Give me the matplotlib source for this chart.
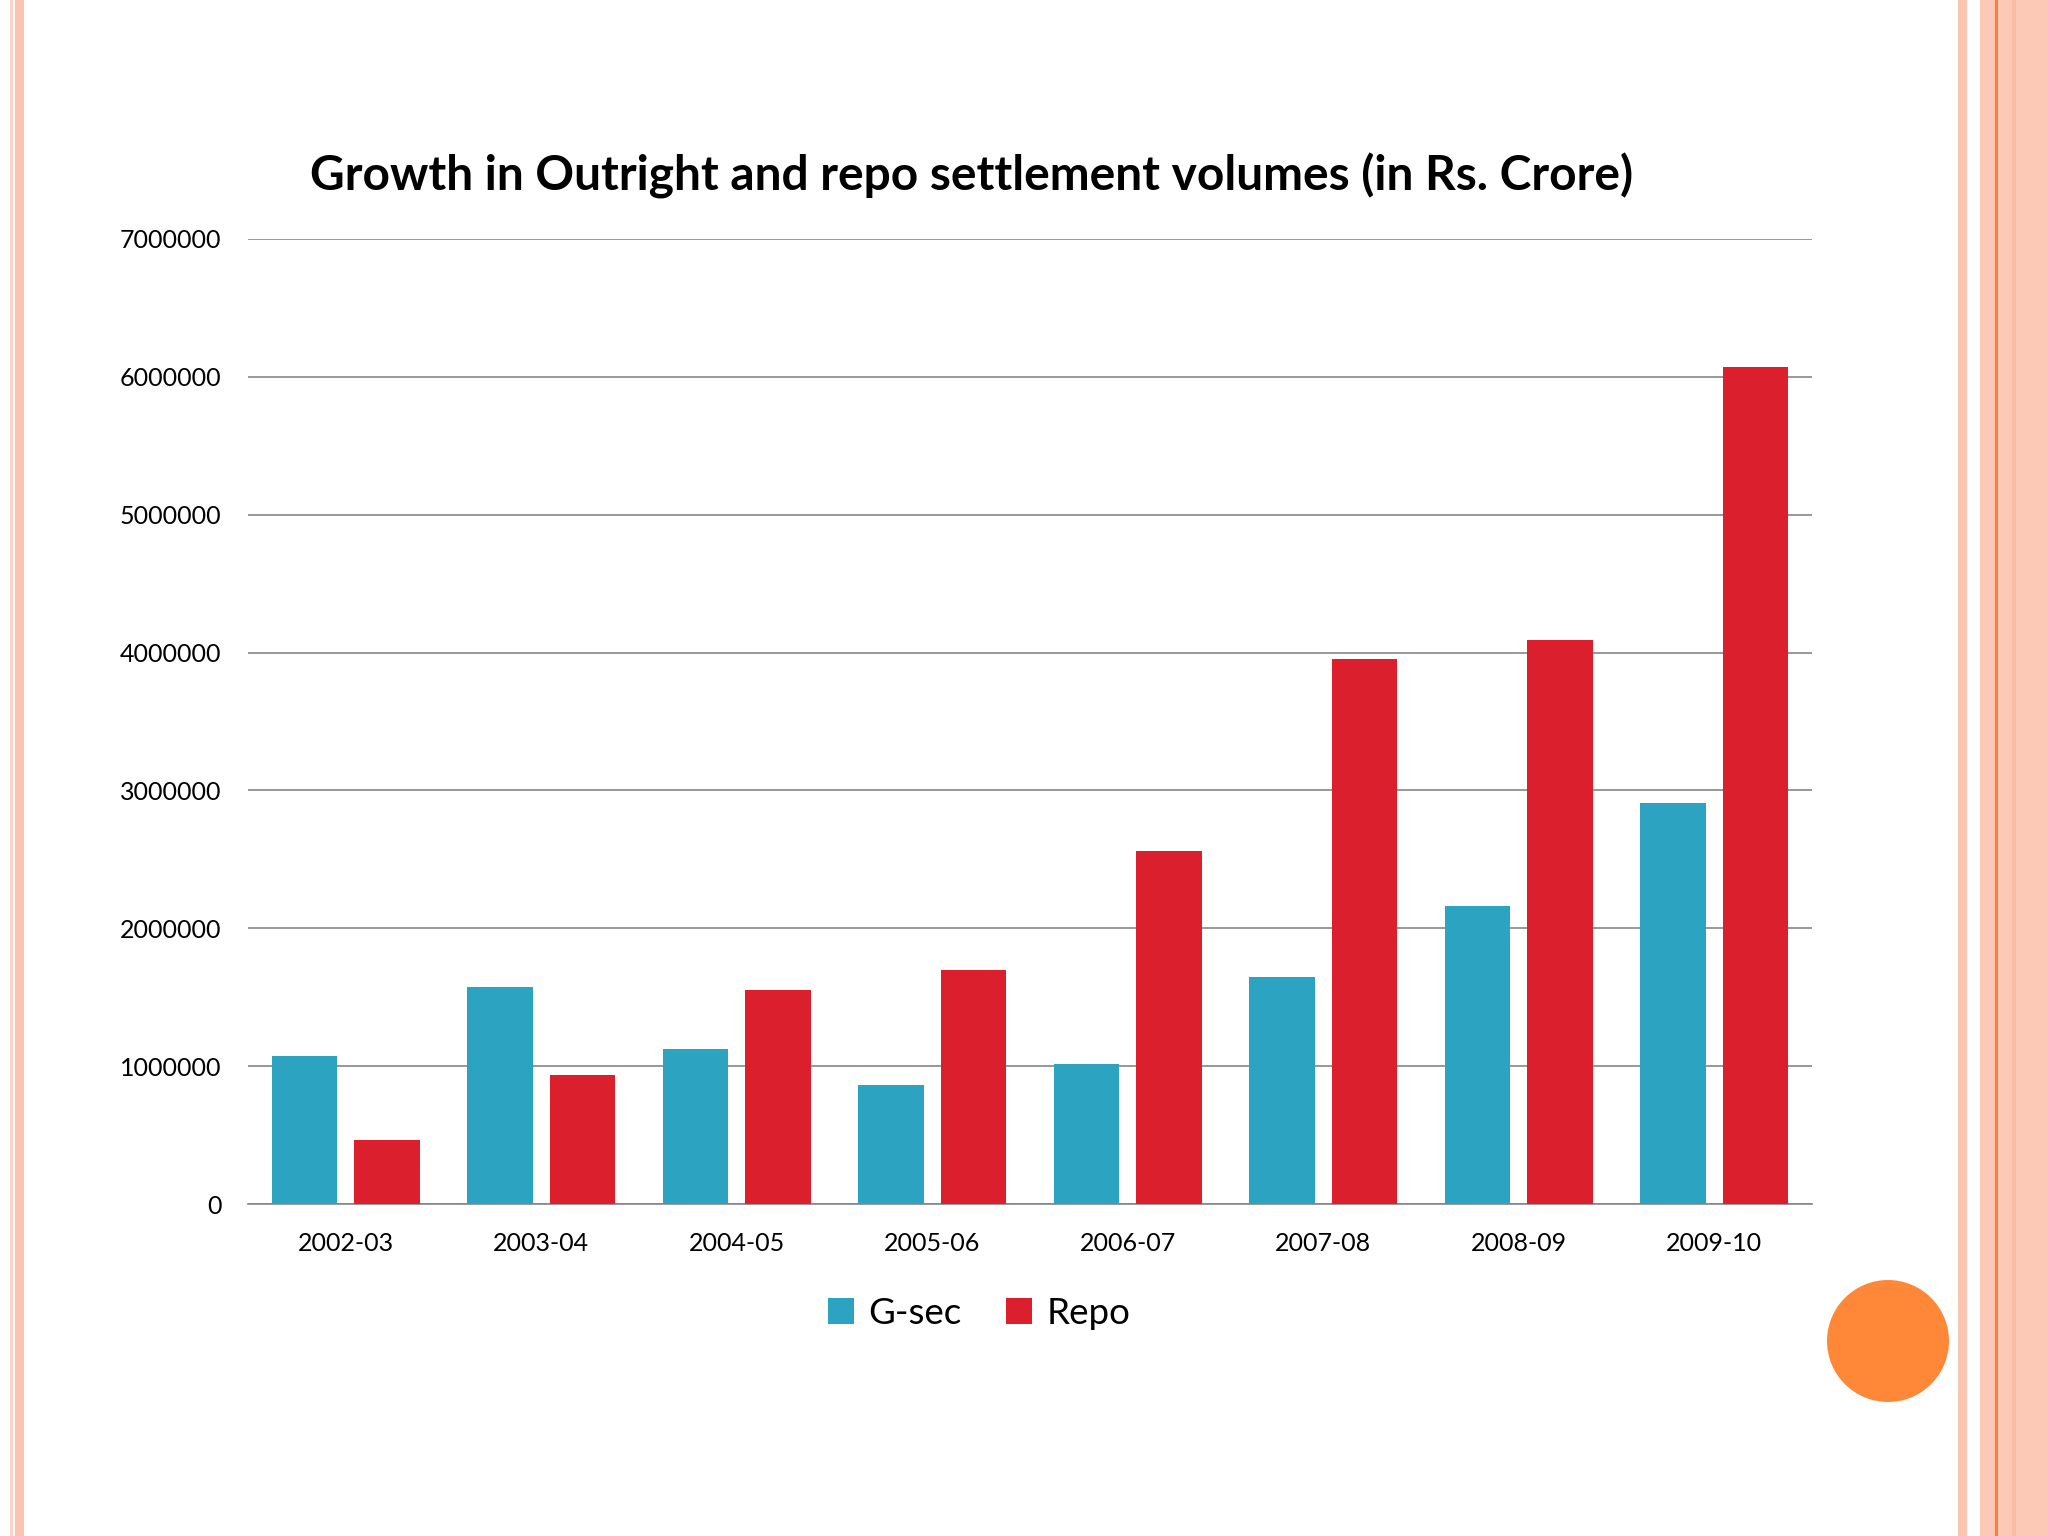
import matplotlib.pyplot as plt
from matplotlib.patches import Rectangle, Circle
import numpy as np

# data (Rs. Crore)
years = ['2002-03', '2003-04', '2004-05', '2005-06', '2006-07', '2007-08', '2008-09', '2009-10']
gsec = [1070000, 1572000, 1127000, 862000, 1013000, 1648000, 2160000, 2908000]
repo = [464000, 938000, 1553000, 1696000, 2558000, 3950000, 4092000, 6072000]

plt.rcParams['font.family'] = ['Lato', 'DejaVu Sans']

fig = plt.figure(figsize=(20.48, 15.36), dpi=100)
fig.patch.set_facecolor('white')

# slide decoration: stripes on both sides and the orange dot
W, H = 2048.0, 1536.0
def stripe(x0, x1, color):
    fig.patches.append(Rectangle((x0 / W, 0), (x1 - x0) / W, 1, transform=fig.transFigure,
                                 facecolor=color, edgecolor='none', zorder=0))
stripe(10, 13, '#FCD3C4')
stripe(15, 24, '#FBC4AE')
stripe(1958, 1967, '#FBC6B1')
stripe(1980, 2048, '#FCC9B6')
stripe(1995, 1998, '#F4833A')
stripe(2012, 2016, '#FBBCA4')
dot = Circle((1888 / 100, (H - 1341) / 100), 61 / 100, transform=fig.dpi_scale_trans,
             facecolor='#FF8838', edgecolor='none', zorder=0)
fig.patches.append(dot)

ax = fig.add_axes([248 / W, 1 - 1204 / H, (1812 - 248) / W, (1204 - 239) / H])

x = np.arange(len(years))
bw = 0.334
ax.bar(x - 0.2105, gsec, bw, color='#2CA3C0', label='G-sec', zorder=3)
ax.bar(x + 0.2105, repo, bw, color='#DC1F2C', label='Repo', zorder=3)

ax.set_xlim(-0.5, len(years) - 0.5)
ax.set_ylim(0, 7000000)
ax.set_yticks(range(0, 7000001, 1000000))
ax.set_yticklabels([str(v) for v in range(0, 7000001, 1000000)])
ax.set_xticks(x)
ax.set_xticklabels(years)
ax.tick_params(axis='both', length=0, labelsize=18)
ax.tick_params(axis='y', pad=19)
ax.tick_params(axis='x', pad=20)
ax.yaxis.grid(True, color='#868686', linewidth=1.2)
ax.set_axisbelow(True)
for s in ['top', 'right', 'left']:
    ax.spines[s].set_visible(False)
ax.spines['bottom'].set_color('#868686')
ax.spines['bottom'].set_linewidth(1.2)
ax.set_facecolor('none')

fig.text(972 / W, 1 - 176 / H, 'Growth in Outright and repo settlement volumes (in Rs. Crore)',
         ha='center', va='center', fontsize=34.5, fontweight='bold')

fig.legend(loc='center', bbox_to_anchor=(979 / W, 1 - 1313 / H), ncol=2, frameon=False,
           fontsize=26.5, handlelength=0.7, handleheight=0.7, handletextpad=0.4, columnspacing=1.2)

fig.savefig('out.png', dpi=100)
